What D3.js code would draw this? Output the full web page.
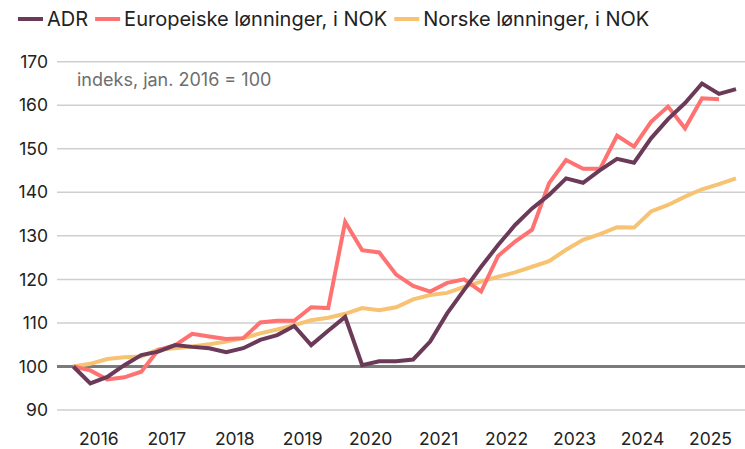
<!DOCTYPE html>
<html>
<head>
<meta charset="utf-8">
<script src="https://cdn.jsdelivr.net/npm/d3@7"></script>
<style>
  body { margin: 0; background: #fff; }
  svg { display: block; font-family: Inter, Roboto, "Noto Sans", sans-serif; }
</style>
</head>
<body>
<svg id="chart" width="745" height="449"></svg>
<script>
// kvartaler fra 2016K1 til 2025K4
var years = ["2016", "2017", "2018", "2019", "2020", "2021", "2022", "2023", "2024", "2025"];
var yTicks = [90, 100, 110, 120, 130, 140, 150, 160, 170];

var adr = [100, 96.1, 97.6, 100.3, 102.6, 103.4, 104.9, 104.5, 104.2, 103.3, 104.2, 106.1,
  107.2, 109.3, 104.9, 108.2, 111.4, 100.3, 101.2, 101.2, 101.6, 105.7, 112.2, 117.6,
  122.9, 127.9, 132.5, 136.3, 139.4, 143.2, 142.2, 145.1, 147.7, 146.8, 152.4, 156.8,
  160.5, 165.0, 162.6, 163.7];

var euro = [100, 99.1, 97.0, 97.5, 98.8, 103.8, 104.9, 107.5, 106.9, 106.3, 106.5, 110.1,
  110.5, 110.5, 113.6, 113.4, 133.2, 126.7, 126.2, 121.1, 118.5, 117.2, 119.2, 120.0,
  117.2, 125.4, 128.7, 131.4, 142.1, 147.4, 145.4, 145.4, 153.0, 150.5, 156.2, 159.7,
  154.7, 161.6, 161.4];

var norske = [100, 100.6, 101.7, 102.1, 102.3, 103.9, 104.2, 104.6, 105.1, 105.7, 106.5, 107.6,
  108.5, 109.5, 110.6, 111.2, 112.1, 113.4, 112.9, 113.6, 115.4, 116.4, 116.9, 118.3,
  119.5, 120.6, 121.6, 122.9, 124.2, 126.8, 129.1, 130.4, 132.0, 131.9, 135.6, 137.1,
  139.0, 140.7, 141.9, 143.2];

var series = [
  { name: "ADR", values: adr, color: "#6b3a58" },
  { name: "Europeiske lønninger, i NOK", values: euro, color: "#ff7272" },
  { name: "Norske lønninger, i NOK", values: norske, color: "#f7c272" }
];

var svg = d3.select("#chart");

var x = d3.scaleLinear().domain([0, 39]).range([73.3, 736]);
var y = d3.scaleLinear().domain([90, 170]).range([410, 61.7]);

// rutenett
svg.append("g")
  .selectAll("line")
  .data(yTicks)
  .enter()
  .append("line")
  .attr("x1", 57)
  .attr("x2", 745)
  .attr("y1", function (d) { return y(d); })
  .attr("y2", function (d) { return y(d); })
  .attr("stroke", function (d) { return d === 100 ? "#7a7a7a" : "#cfcfcf"; })
  .attr("stroke-width", function (d) { return d === 100 ? 3 : 1.5; });

// y-akse
svg.append("g")
  .selectAll("text")
  .data(yTicks)
  .enter()
  .append("text")
  .attr("x", 48)
  .attr("y", function (d) { return y(d); })
  .attr("dy", "0.35em")
  .attr("text-anchor", "end")
  .attr("font-size", 17.5)
  .attr("fill", "#222")
  .text(function (d) { return d; });

// x-akse, årstall midt i året
svg.append("g")
  .selectAll("text")
  .data(years)
  .enter()
  .append("text")
  .attr("x", function (d, i) { return x(i * 4 + 1.5); })
  .attr("y", 445)
  .attr("text-anchor", "middle")
  .attr("font-size", 17.5)
  .attr("fill", "#222")
  .text(function (d) { return d; });

svg.append("text")
  .attr("x", 77)
  .attr("y", 86)
  .attr("font-size", 18)
  .attr("fill", "#6e6e6e")
  .text("indeks, jan. 2016 = 100");

// linjer
var line = d3.line()
  .x(function (d, i) { return x(i); })
  .y(function (d) { return y(d); });

svg.append("g")
  .selectAll("path")
  .data(series.slice().reverse())
  .enter()
  .append("path")
  .attr("d", function (s) { return line(s.values); })
  .attr("fill", "none")
  .attr("stroke", function (s) { return s.color; })
  .attr("stroke-width", 4)
  .attr("stroke-linejoin", "miter");

// tegnforklaring
var legend = svg.append("g");
var lx = 18;
series.forEach(function (s) {
  var g = legend.append("g").attr("transform", "translate(" + lx + ",0)");
  g.append("rect")
    .attr("x", 0)
    .attr("y", 17)
    .attr("width", 25)
    .attr("height", 4)
    .attr("fill", s.color);
  var t = g.append("text")
    .attr("x", 29)
    .attr("y", 26)
    .attr("font-size", 20)
    .attr("fill", "#222")
    .text(s.name);
  lx += 29 + t.node().getComputedTextLength() + 7;
});
</script>
</body>
</html>
